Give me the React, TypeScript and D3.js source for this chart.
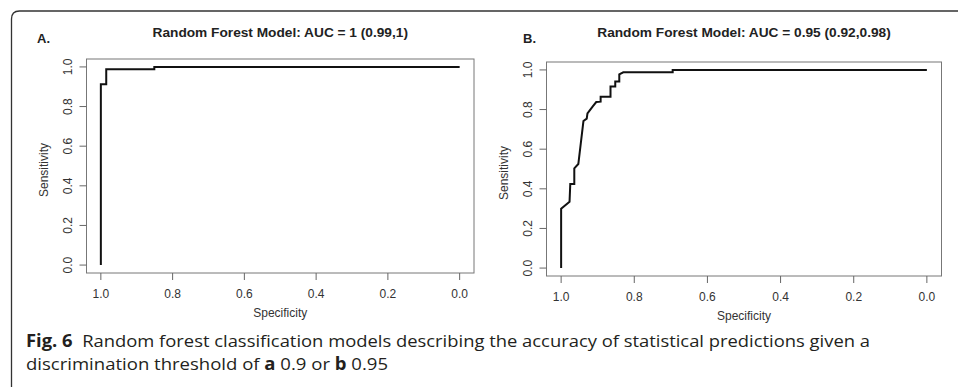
import React from "react";
import * as d3 from "d3";

// panel A: threshold 0.9
const specA = [1, 1, 0.985, 0.985, 0.851, 0.851, 0];
const sensA = [0, 0.913, 0.913, 0.988, 0.988, 1, 1];

// panel B: threshold 0.95
const specB = [1, 1, 0.977, 0.975, 0.964, 0.964, 0.953, 0.939, 0.93, 0.928, 0.914, 0.904, 0.892, 0.892, 0.865, 0.865, 0.852, 0.852, 0.841, 0.841, 0.83, 0.695, 0.695, 0];
const sensB = [0, 0.3, 0.335, 0.424, 0.424, 0.503, 0.525, 0.742, 0.754, 0.781, 0.815, 0.838, 0.84, 0.865, 0.865, 0.916, 0.916, 0.941, 0.941, 0.978, 0.988, 0.988, 1, 1];

const tickVals = [1.0, 0.8, 0.6, 0.4, 0.2, 0.0];
const titleA = "Random Forest Model: AUC = 1 (0.99,1)";
const titleB = "Random Forest Model: AUC = 0.95 (0.92,0.98)";

const FONT = "'Liberation Sans', Arial, sans-serif";
const TXT = "#333";

type PanelProps = {
  spec: number[];
  sens: number[];
  title: string;
  tag: string;
  box: { x0: number; x1: number; y0: number; y1: number };
  tagX: number;
};

function Panel({ spec, sens, title, tag, box, tagX }: PanelProps) {
  // R style: data range padded by 4% on each side
  const x = d3.scaleLinear().domain([1.04, -0.04]).range([box.x0, box.x1]);
  const y = d3.scaleLinear().domain([-0.04, 1.04]).range([box.y1, box.y0]);
  const pts = spec.map((s, i) => [s, sens[i]] as [number, number]);
  const line = d3.line<[number, number]>().x(d => x(d[0])).y(d => y(d[1]));
  const cx = (box.x0 + box.x1) / 2;
  const cy = (box.y0 + box.y1) / 2;
  const tl = 7;

  return (
    <g fontFamily={FONT}>
      <text x={tagX} y={43} fontSize={13} fontWeight="bold" fill="#222">{tag}</text>
      <text x={cx} y={37} textAnchor="middle" fontSize={13.7} fontWeight="bold" fill="#222">{title}</text>
      <rect x={box.x0} y={box.y0} width={box.x1 - box.x0} height={box.y1 - box.y0} fill="none" stroke="#777" strokeWidth={1} />
      {tickVals.map(v => (
        <g key={"x" + v}>
          <line x1={x(v)} x2={x(v)} y1={box.y1} y2={box.y1 + tl} stroke="#666" />
          <text x={x(v)} y={box.y1 + 25} textAnchor="middle" fontSize={12} fill={TXT}>{v.toFixed(1)}</text>
        </g>
      ))}
      {tickVals.map(v => (
        <g key={"y" + v}>
          <line x1={box.x0 - tl} x2={box.x0} y1={y(v)} y2={y(v)} stroke="#666" />
          <text transform={`translate(${box.x0 - 15},${y(v)}) rotate(-90)`} textAnchor="middle" fontSize={12} fill={TXT}>{v.toFixed(1)}</text>
        </g>
      ))}
      <text x={cx} y={box.y1 + 44} textAnchor="middle" fontSize={12} fill={TXT}>Specificity</text>
      <text transform={`translate(${box.x0 - 39},${cy + 4}) rotate(-90)`} textAnchor="middle" fontSize={12} fill={TXT}>Sensitivity</text>
      <path d={line(pts) || ""} fill="none" stroke="#111" strokeWidth={2} />
    </g>
  );
}

export default function App() {
  const W = 958;
  const H = 387;
  return (
    <div style={{ position: "absolute", left: 0, top: 0 }}>
      <svg width={W} height={H} style={{ display: "block", background: "#fff" }}>
        <path d={`M11.5,${H + 5} L11.5,19 Q11.5,11 19.5,11 L${W + 5},11`} fill="none" stroke="#333" strokeWidth={1.3} />
        <Panel spec={specA} sens={sensA} title={titleA} tag="A." tagX={37}
          box={{ x0: 86.5, x1: 474, y0: 59, y1: 273 }} />
        <Panel spec={specB} sens={sensB} title={titleB} tag="B." tagX={523}
          box={{ x0: 546.5, x1: 941.5, y0: 62, y1: 276 }} />
        <g fontFamily="'Open Sans', 'Noto Sans', sans-serif" fontSize={17} fill="#231f20">
          <text x={26} y={347} textLength={844} lengthAdjust="spacingAndGlyphs">
            <tspan fontWeight="bold">Fig. 6</tspan>
            <tspan>{"\u00a0 Random forest classification models describing the accuracy of statistical predictions given a"}</tspan>
          </text>
          <text x={26} y={370} textLength={362} lengthAdjust="spacingAndGlyphs">
            <tspan>discrimination threshold of </tspan>
            <tspan fontWeight="bold">a</tspan>
            <tspan> 0.9 or </tspan>
            <tspan fontWeight="bold">b</tspan>
            <tspan> 0.95</tspan>
          </text>
        </g>
      </svg>
    </div>
  );
}
